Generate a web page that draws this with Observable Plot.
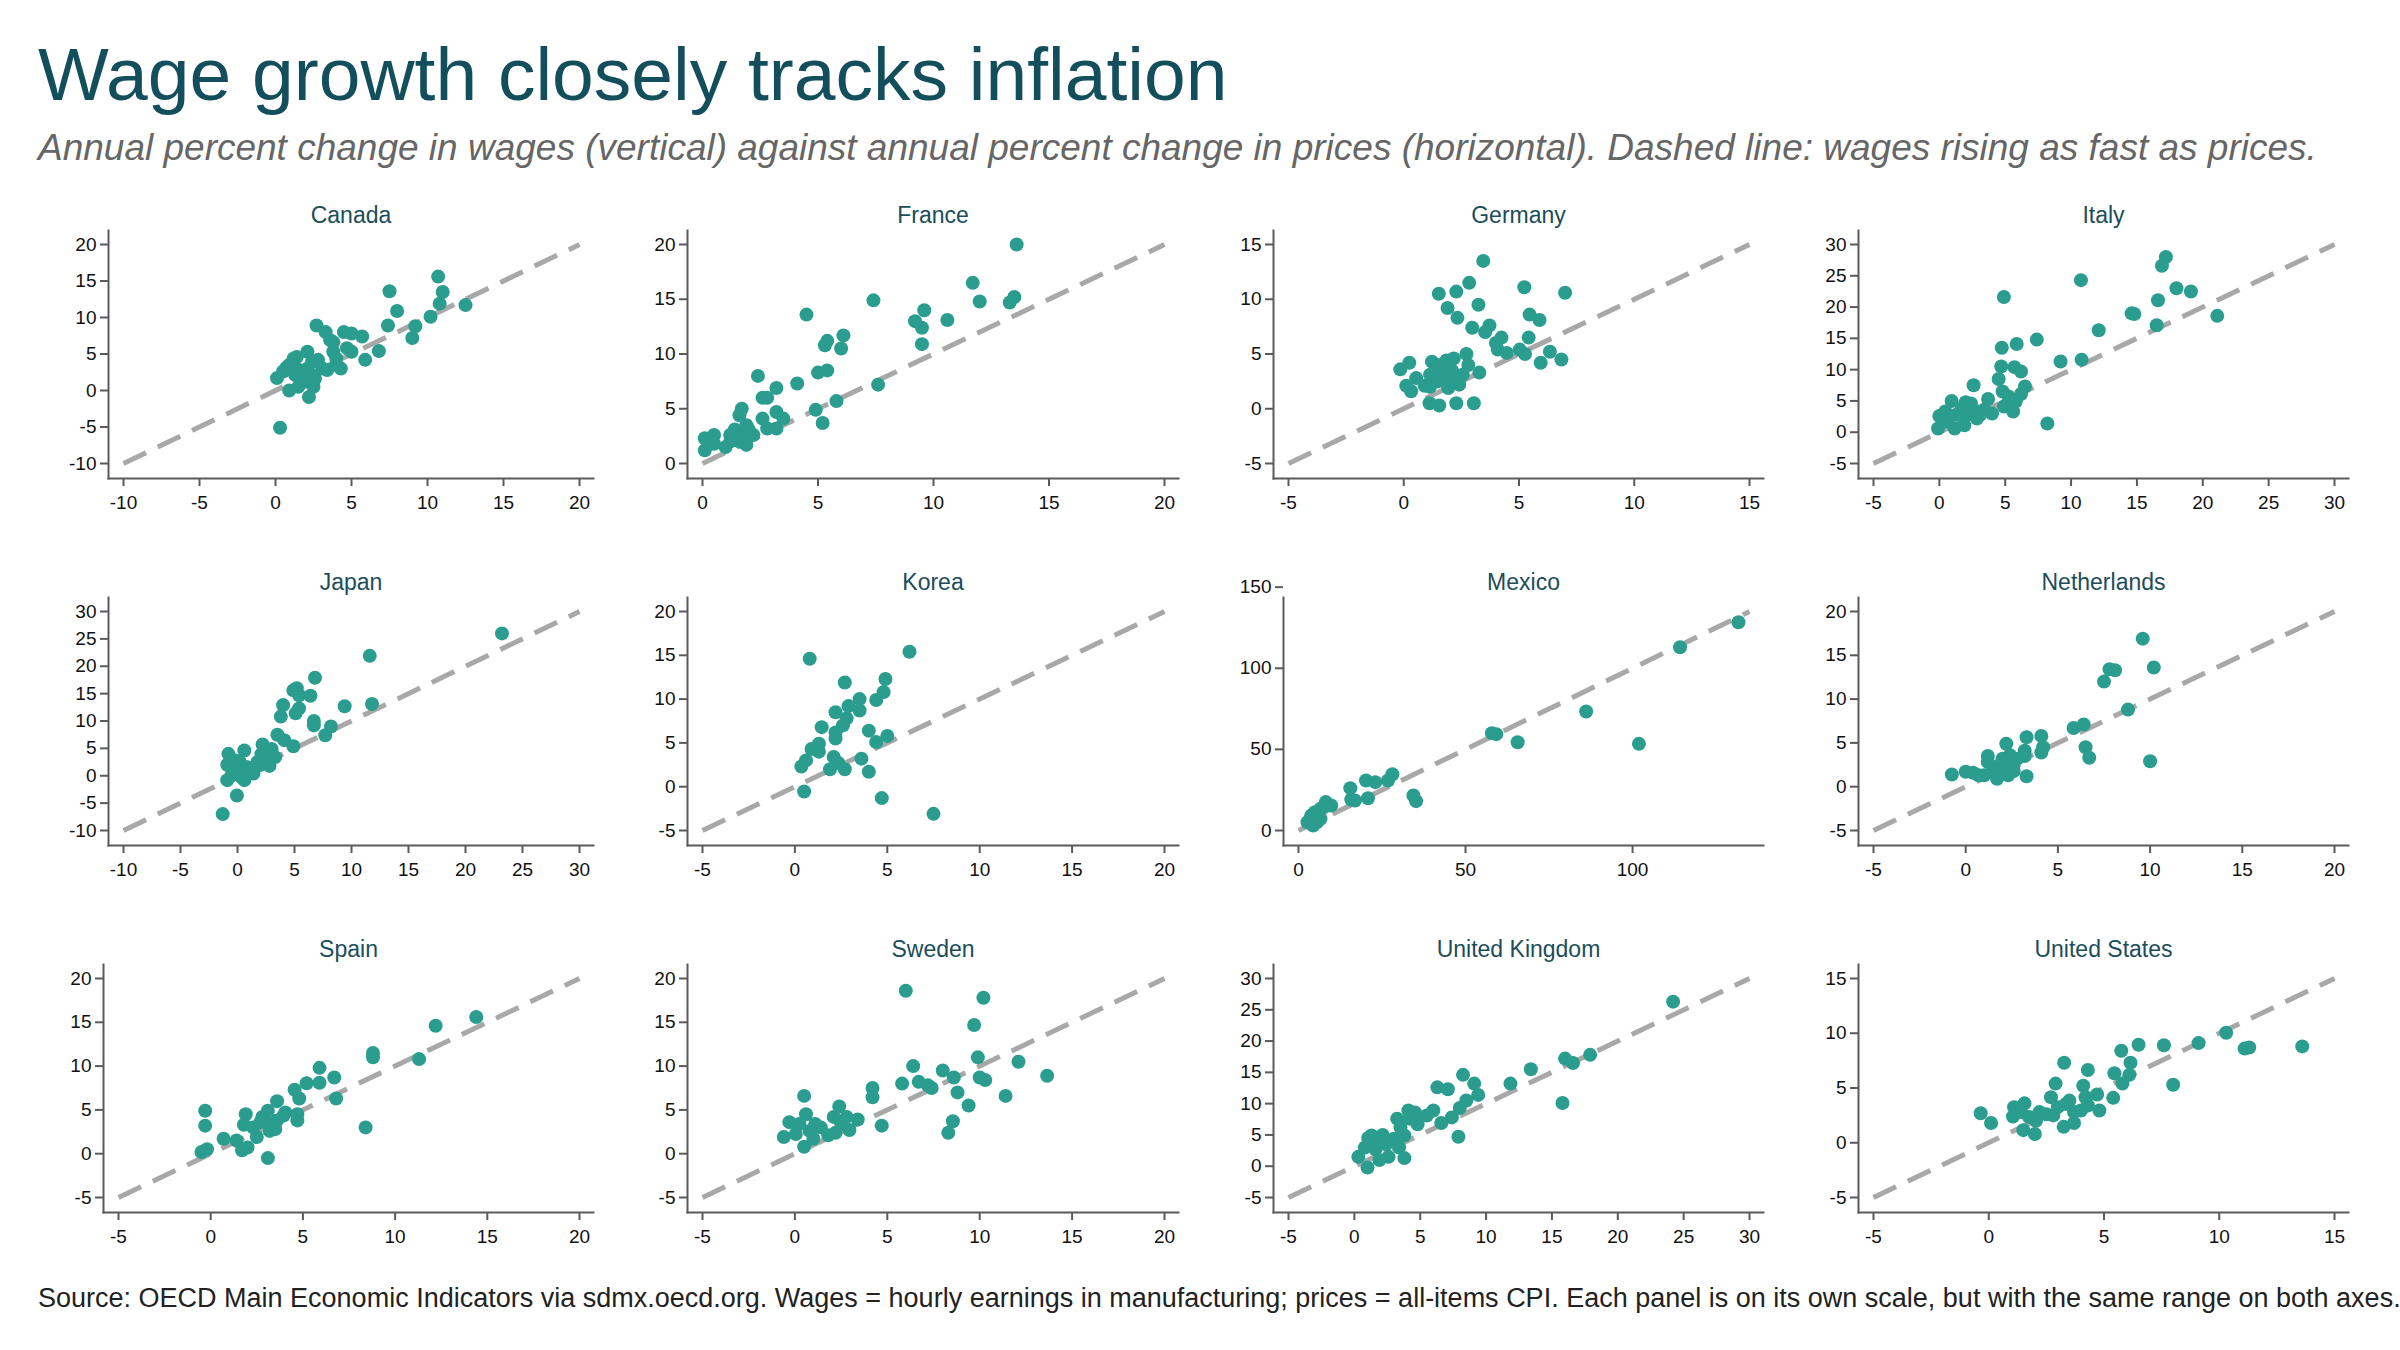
<!DOCTYPE html>
<html>
<head>
<meta charset="utf-8">
<script src="https://cdn.jsdelivr.net/npm/d3@7"></script>
<script src="https://cdn.jsdelivr.net/npm/@observablehq/plot@0.6"></script>
<style>
  html, body { margin: 0; padding: 0; background: #fff; }
  body { width: 2400px; height: 1350px; overflow: hidden; position: relative; font-family: "Liberation Sans", Arial, sans-serif; }
  #title { position: absolute; left: 38px; top: 37px; font-size: 75px; line-height: 75px; color: #124e5b; white-space: nowrap; }
  #subtitle { position: absolute; left: 38px; top: 129px; font-size: 37px; line-height: 37px; font-style: italic; color: #666; white-space: nowrap; }
  #footer { position: absolute; left: 38px; top: 1285px; font-size: 27px; line-height: 27px; color: #222; white-space: nowrap; }
  .panel { position: absolute; }
</style>
</head>
<body>
<div id="title">Wage growth closely tracks inflation</div>
<div id="subtitle">Annual percent change in wages (vertical) against annual percent change in prices (horizontal). Dashed line: wages rising as fast as prices.</div>
<div id="charts"></div>
<div id="footer">Source: OECD Main Economic Indicators via sdmx.oecd.org. Wages = hourly earnings in manufacturing; prices = all-items CPI. Each panel is on its own scale, but with the same range on both axes.</div>
<script>
// ---- data: [price change, wage change] ----
const canada = [[0.3,-5.1],[0.1,1.7],[0.9,0],[0.7,3.1],[1.2,4.4],[1.4,3],[1.7,1.9],[2.1,5.3],[2.4,3.9],[2.7,8.9],[2.8,4.2],[2.2,-0.9],[2.5,0.5],[1.9,1.2],[3.3,8.0],[3.6,6.9],[3.4,2.8],[3.8,5.3],[4.3,3.0],[4.0,4.4],[4.5,8.0],[5.0,7.8],[5.7,7.4],[5.0,5.3],[5.9,4.2],[6.8,5.4],[7.5,13.6],[7.4,8.9],[8.0,10.9],[9.0,7.2],[9.2,8.8],[10.2,10.1],[10.7,15.6],[11.0,13.5],[10.8,11.9],[12.5,11.7],[1.4,4.6],[0.9,3.5],[1.8,2.1],[2.1,3.0],[2.6,1.6],[1.5,0.5],[3.1,3.0],[2.4,2.1],[3.8,6.6],[4.7,5.8],[4.0,3.5],[0.5,2.6],[1.3,2.1]];
const france = [[13.6,20.0],[11.7,16.5],[12.0,14.8],[13.3,14.7],[13.5,15.2],[7.4,14.9],[4.5,13.6],[9.6,14.0],[9.2,13.0],[9.5,12.4],[10.6,13.1],[9.5,10.9],[5.4,11.2],[5.3,10.8],[6.1,11.7],[6.0,10.5],[5.0,8.3],[5.4,8.5],[4.1,7.3],[7.6,7.2],[2.4,8.0],[3.2,6.9],[2.6,6.0],[2.8,6.0],[5.8,5.7],[4.9,4.9],[5.2,3.7],[1.7,5.0],[1.6,4.4],[3.2,4.7],[3.5,4.1],[3.2,3.2],[2.6,4.1],[2.8,3.2],[1.9,3.5],[2.2,2.6],[1.9,1.7],[1.6,2.0],[1.2,2.6],[1.0,1.5],[0.5,2.6],[0.1,2.3],[0.1,1.2],[0.5,1.8],[1.2,2.0],[1.7,2.7],[2.0,3.1],[1.4,3.1]];
const germany = [[3.45,13.5],[2.84,11.5],[1.52,10.5],[2.28,10.7],[5.23,11.1],[7.0,10.6],[3.24,9.5],[1.9,9.2],[2.33,8.3],[5.46,8.6],[5.89,8.1],[2.97,7.4],[3.72,7.6],[3.53,7.0],[4.24,6.5],[4.0,6.0],[5.42,6.5],[4.08,5.4],[4.47,5.1],[5.03,5.4],[5.26,5.0],[6.34,5.2],[6.84,4.5],[5.94,4.2],[3.28,3.3],[-0.15,3.6],[0.24,4.2],[0.54,2.8],[0.11,2.1],[0.32,1.6],[0.91,2.1],[1.12,0.5],[1.54,0.3],[2.28,0.5],[3.04,0.5],[1.22,4.3],[1.46,4.0],[1.85,4.4],[2.17,4.6],[2.72,5.0],[2.8,4.0],[1.14,3.1],[1.62,3.4],[2.09,3.5],[2.56,3.1],[1.46,2.5],[1.93,1.9],[2.41,2.2],[1.14,2.0],[2.17,2.9],[1.77,2.5]];
const italy = [[17.2,28.0],[16.9,26.6],[10.75,24.3],[4.9,21.6],[18.0,23.0],[19.1,22.5],[16.6,21.1],[14.6,19.0],[14.8,18.9],[21.1,18.6],[16.5,17.1],[12.1,16.3],[7.4,14.8],[4.74,13.5],[5.87,14.1],[9.2,11.3],[10.8,11.6],[4.7,10.5],[5.7,10.4],[6.2,9.7],[4.5,8.5],[2.6,7.5],[6.5,7.3],[6.2,6.1],[4.8,6.5],[5.25,5.7],[8.2,1.4],[3.7,5.3],[5.8,4.9],[0.93,5.0],[2.0,4.8],[2.4,4.6],[4.0,3.0],[3.4,3.6],[5.6,3.3],[4.9,4.1],[0,2.6],[-0.1,0.6],[1.16,0.6],[1.9,1.1],[2.85,2.2],[0.6,1.7],[1.3,2.8],[2.1,2.8],[2.85,3.3],[0.45,3.3],[1.7,3.8],[3.1,2.8]];
const japan = [[23.2,26.0],[11.6,21.9],[6.8,17.9],[4.9,15.6],[5.2,16.0],[5.4,14.7],[6.4,14.6],[4.0,12.9],[5.4,12.3],[5.1,11.4],[3.8,10.8],[9.4,12.7],[11.8,13.1],[6.7,10.0],[6.7,9.2],[8.2,9.0],[7.7,7.4],[3.5,7.5],[4.1,6.5],[4.9,5.4],[2.2,5.7],[3.0,4.9],[3.3,3.4],[2.8,1.8],[0.6,4.6],[-0.8,4.0],[-0.9,2.0],[-0.9,-0.8],[-0.05,-3.6],[-1.3,-7.0],[0.6,-0.8],[1.4,0.4],[1.75,2.5],[-0.5,1.3],[0,0.7],[0.2,2.5],[0.8,1.6],[-0.5,0.1],[0.3,-0.2],[1.1,1.3],[1.9,1.9],[2.4,3.1],[2.1,4.0],[1.6,1.6],[-0.2,2.8]];
const korea = [[0.8,14.6],[6.2,15.4],[2.7,11.9],[4.9,12.3],[4.8,10.8],[4.4,9.9],[3.5,10.0],[2.9,9.2],[2.2,8.5],[3.5,8.7],[2.8,7.8],[2.6,7.0],[1.45,6.8],[2.2,6.2],[2.2,5.5],[4.0,6.4],[5.0,5.8],[4.4,5.1],[1.3,4.9],[0.9,4.3],[1.3,4.0],[0.6,3.0],[0.35,2.3],[2.1,3.4],[2.35,2.7],[1.9,2.0],[2.7,2.0],[3.6,3.2],[4.0,1.7],[0.5,-0.55],[4.7,-1.3],[7.5,-3.1]];
const mexico = [[131.7,128.4],[114.2,113.0],[86.1,73.4],[101.9,53.4],[65.6,54.4],[57.9,60.0],[59.2,59.4],[34.4,21.6],[35.2,18.1],[28.1,34.7],[26.8,30.8],[23.0,29.8],[20.2,30.8],[20.8,19.9],[15.5,26.1],[15.8,19.1],[16.9,18.5],[9.8,15.4],[8.2,17.5],[6.6,13.4],[4.9,11.3],[3.8,9.2],[3.3,6.2],[2.7,5.1],[5.5,5.1],[4.4,3.1],[6.6,7.2],[5.5,10.3],[7.7,14.4],[3.8,4.1]];
const netherlands = [[9.6,16.9],[10.2,13.6],[7.8,13.4],[8.1,13.3],[7.5,12.0],[8.8,8.8],[5.85,6.7],[6.4,7.1],[6.5,4.5],[6.7,3.3],[10.0,2.9],[3.3,5.65],[4.1,5.8],[4.2,4.5],[4.1,3.9],[3.2,4.1],[3.2,3.5],[2.2,4.9],[1.2,3.5],[1.2,2.8],[3.3,1.2],[-0.75,1.4],[0,1.7],[0.7,1.3],[1.7,0.9],[2.3,1.3],[2.6,2.4],[1.8,2.4],[1.5,1.7],[2.1,2.0],[2.8,3.2],[2.4,3.6],[0.4,1.6],[1.0,1.3],[2.0,3.2],[2.6,1.8]];
const spain = [[14.4,15.6],[12.2,14.6],[8.8,11.5],[8.8,11.0],[11.3,10.8],[5.9,9.8],[6.7,8.7],[5.9,8.1],[5.2,8.05],[4.55,7.3],[4.8,6.3],[6.8,6.3],[8.4,3.0],[3.6,6.0],[4.05,4.7],[4.7,4.5],[4.7,3.8],[-0.3,4.9],[-0.3,3.2],[1.9,4.5],[1.8,3.3],[3.1,4.9],[2.8,4.2],[3.5,2.8],[3.2,2.6],[2.5,1.9],[0.7,1.7],[1.4,1.5],[2.0,0.7],[1.7,0.4],[-0.2,0.5],[-0.5,0.2],[3.1,-0.5],[2.3,3.0],[3.6,3.8],[3.95,4.35],[3.0,3.6],[2.7,3.6]];
const sweden = [[6.0,18.6],[10.2,17.8],[9.7,14.7],[9.9,11.0],[12.1,10.5],[6.4,10.0],[8.0,9.5],[8.6,8.7],[10.0,8.7],[10.3,8.4],[13.65,8.9],[5.8,8.0],[6.7,8.2],[7.2,7.8],[7.4,7.5],[8.8,7.0],[11.4,6.6],[9.4,5.5],[8.55,3.7],[8.3,2.4],[4.2,7.5],[4.2,6.45],[4.7,3.2],[0.5,6.6],[0.6,4.5],[2.4,5.4],[3.4,3.9],[2.95,2.7],[-0.3,3.6],[-0.6,1.9],[0.5,0.8],[1.0,1.7],[1.8,2.1],[2.2,2.4],[0.05,2.25],[0.8,2.6],[1.4,3.0],[2.1,4.2],[2.8,4.2],[2.5,3.4],[0.25,3.4],[1.1,3.4]];
const uk = [[24.2,26.3],[17.9,17.8],[16.0,17.2],[16.6,16.5],[13.4,15.5],[15.8,10.1],[11.85,13.2],[8.25,14.6],[9.1,13.2],[9.4,11.4],[6.3,12.6],[7.1,12.3],[8.5,10.5],[8.0,9.3],[7.4,7.8],[6.6,6.9],[7.9,4.7],[6.0,8.9],[5.5,8.1],[4.6,8.6],[4.1,8.9],[4.8,6.7],[3.25,7.6],[3.5,6.2],[3.8,4.9],[3.4,3.0],[3.8,1.3],[2.15,5.0],[1.3,4.9],[1.05,4.5],[0.3,1.5],[1.0,-0.2],[1.9,1.0],[2.6,1.5],[1.6,2.7],[2.4,3.5],[3.0,4.4],[4.2,7.6],[4.5,8.1],[1.9,4.1],[0.8,3.0]];
const us = [[10.3,10.05],[9.1,9.1],[7.6,8.9],[6.5,8.95],[5.75,8.4],[11.1,8.6],[11.3,8.7],[13.6,8.8],[3.27,7.3],[6.15,7.3],[4.3,6.65],[5.45,6.35],[6.1,6.2],[5.8,5.4],[8.0,5.3],[2.9,5.4],[4.1,5.2],[4.7,4.4],[5.4,4.1],[4.8,2.95],[4.2,4.15],[2.7,4.15],[-0.35,2.7],[0.1,1.8],[1.1,3.25],[1.55,3.6],[1.05,2.4],[1.5,1.15],[2.0,0.8],[3.25,1.45],[3.7,1.8],[1.75,2.35],[2.2,2.8],[2.5,2.6],[3.0,3.25],[3.35,3.55],[3.7,2.8],[4.0,2.95],[2.8,2.5],[2.05,2.0],[3.5,3.85],[1.4,2.8],[4.3,3.4]];

const countries = ["Canada","France","Germany","Italy","Japan","Korea","Mexico","Netherlands","Spain","Sweden","United Kingdom","United States"];
const series = [canada, france, germany, italy, japan, korea, mexico, netherlands, spain, sweden, uk, us];
// shared range for both axes in each panel
const ranges = [[-10,20],[0,20],[-5,15],[-5,30],[-10,30],[-5,20],[0,135],[-5,20],[-5,20],[-5,20],[-5,30],[-5,15]];
const xTicks = [
  [-10,-5,0,5,10,15,20],[0,5,10,15,20],[-5,0,5,10,15],[-5,0,5,10,15,20,25,30],
  [-10,-5,0,5,10,15,20,25,30],[-5,0,5,10,15,20],[0,50,100],[-5,0,5,10,15,20],
  [-5,0,5,10,15,20],[-5,0,5,10,15,20],[-5,0,5,10,15,20,25,30],[-5,0,5,10,15]
];
const yTicks = [
  [-10,-5,0,5,10,15,20],[0,5,10,15,20],[-5,0,5,10,15],[-5,0,5,10,15,20,25,30],
  [-10,-5,0,5,10,15,20,25,30],[-5,0,5,10,15,20],[0,50,100,150],[-5,0,5,10,15,20],
  [-5,0,5,10,15,20],[-5,0,5,10,15,20],[-5,0,5,10,15,20,25,30],[-5,0,5,10,15]
];

// ---- layout ----
const colLeft = [15, 600, 1185, 1770];
const rowTop = [190, 557, 924];
const panelMarginLeft = [93, 87, 88, 88, 93, 87, 98, 88, 88, 87, 88, 88];
const W = 585, H = 338;

const teal = "#2a9d8f";
const charts = document.getElementById("charts");

countries.forEach((name, i) => {
  const row = Math.floor(i / 4), col = i % 4;
  const [lo, hi] = ranges[i];
  const pts = series[i];
  const diag = [[lo, lo], [hi, hi]];
  const chart = Plot.plot({
    width: W,
    height: H,
    marginTop: 40,
    marginBottom: 50,
    marginLeft: panelMarginLeft[i],
    marginRight: 7,
    style: { fontFamily: '"Liberation Sans", Arial, sans-serif', fontSize: "19px", color: "#111", background: "transparent" },
    x: { domain: [lo, hi], insetLeft: 15, insetRight: 14 },
    y: { domain: [lo, hi], insetTop: 14, insetBottom: 15 },
    marks: [
      Plot.line(diag, { x: d => d[0], y: d => d[1], stroke: "#a8a8a8", strokeWidth: 5, strokeDasharray: "25,13", strokeLinecap: "butt" }),
      Plot.dot(pts, { x: d => d[0], y: d => d[1], r: 7, fill: teal, stroke: "none" }),
      Plot.frame({ anchor: "left", stroke: "#5a5a5a", strokeWidth: 2 }),
      Plot.frame({ anchor: "bottom", stroke: "#5a5a5a", strokeWidth: 2 }),
      Plot.axisX({ ticks: xTicks[i], tickSize: 8, tickPadding: 9, tickFormat: d => String(d), label: null, stroke: "#5a5a5a", strokeWidth: 2, fill: "#111", fontSize: 19 }),
      Plot.axisY({ ticks: yTicks[i], tickSize: 8, tickPadding: 4, tickFormat: d => String(d), label: null, stroke: "#5a5a5a", strokeWidth: 2, fill: "#111", fontSize: 19 }),
      Plot.text([name], { frameAnchor: "top", dy: -8, lineAnchor: "bottom", fontSize: 23, fill: "#1b4d5a", text: d => d })
    ]
  });
  chart.classList.add("panel");
  chart.style.left = colLeft[col] + "px";
  chart.style.top = rowTop[row] + "px";
  charts.appendChild(chart);
});
</script>
</body>
</html>
